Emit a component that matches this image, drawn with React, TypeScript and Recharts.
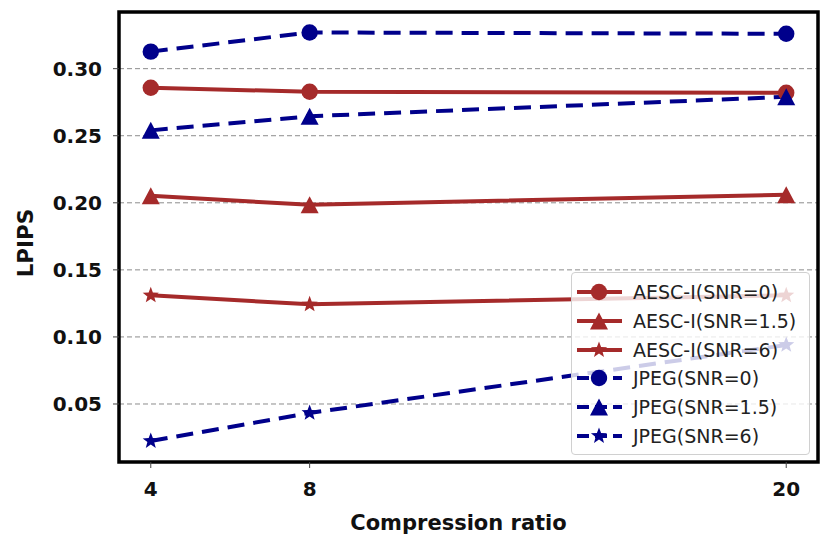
import React from "react"
import {
  LineChart,
  Line,
  XAxis,
  YAxis,
  CartesianGrid,
  ReferenceArea,
  Legend,
} from "recharts"

// compression ratios on the x axis
const ratios = [4, 8, 20]
const xTicks = [4, 8, 20]
const yTicks = [0.05, 0.1, 0.15, 0.2, 0.25, 0.3]

// LPIPS values
const aescSnr0 = [0.2858, 0.2828, 0.282]
const aescSnr15 = [0.2052, 0.1985, 0.206]
const aescSnr6 = [0.131, 0.1243, 0.131]
const jpegSnr0 = [0.3127, 0.327, 0.326]
const jpegSnr15 = [0.254, 0.2645, 0.279]
const jpegSnr6 = [0.0224, 0.0433, 0.094]

const X_DOMAIN = [3.2, 20.8]
const Y_DOMAIN = [0.00675, 0.34225]

const RED = "#a52a2a"
const BLUE = "#00008b"
const FONT = "DejaVu Sans"

const data = ratios.map((r, i) => ({
  x: r,
  aesc0: aescSnr0[i],
  aesc15: aescSnr15[i],
  aesc6: aescSnr6[i],
  jpeg0: jpegSnr0[i],
  jpeg15: jpegSnr15[i],
  jpeg6: jpegSnr6[i],
}))

type MarkerKind = "circle" | "triangle" | "star"

const series: { key: string; name: string; color: string; dashed: boolean; marker: MarkerKind }[] = [
  { key: "aesc0", name: "AESC-I(SNR=0)", color: RED, dashed: false, marker: "circle" },
  { key: "aesc15", name: "AESC-I(SNR=1.5)", color: RED, dashed: false, marker: "triangle" },
  { key: "aesc6", name: "AESC-I(SNR=6)", color: RED, dashed: false, marker: "star" },
  { key: "jpeg0", name: "JPEG(SNR=0)", color: BLUE, dashed: true, marker: "circle" },
  { key: "jpeg15", name: "JPEG(SNR=1.5)", color: BLUE, dashed: true, marker: "triangle" },
  { key: "jpeg6", name: "JPEG(SNR=6)", color: BLUE, dashed: true, marker: "star" },
]

function starPoints(cx: number, cy: number, R: number) {
  const r = R * 0.42
  const pts: string[] = []
  for (let i = 0; i < 10; i++) {
    const a = -Math.PI / 2 + (i * Math.PI) / 5
    const rad = i % 2 === 0 ? R : r
    pts.push(`${cx + rad * Math.cos(a)},${cy + rad * Math.sin(a)}`)
  }
  return pts.join(" ")
}

function Marker({ kind, cx, cy, color, scale = 1 }: { kind: MarkerKind; cx: number; cy: number; color: string; scale?: number }) {
  if (kind === "circle") return <circle cx={cx} cy={cy} r={8.2 * scale} fill={color} />
  if (kind === "triangle") {
    const w = 9 * scale
    const h = 8.5 * scale
    return <polygon points={`${cx},${cy - h} ${cx - w},${cy + h} ${cx + w},${cy + h}`} fill={color} />
  }
  return <polygon points={starPoints(cx, cy, 8.5 * scale)} fill={color} />
}

function makeDot(kind: MarkerKind, color: string) {
  return (props: any) => {
    const { cx, cy, index } = props
    if (cx == null || cy == null) return <g key={index} />
    return <Marker key={index} kind={kind} cx={cx} cy={cy} color={color} />
  }
}

function LegendBox() {
  return (
    <div
      style={{
        background: "rgba(255,255,255,0.8)",
        border: "1px solid #d0d0d0",
        borderRadius: 4,
        padding: "5px 0 4px 3px",
        fontFamily: FONT,
        fontSize: 19,
        color: "#222",
        boxSizing: "border-box",
        width: 239,
        textAlign: "left",
      }}
    >
      {series.map((s) => (
        <div key={s.key} style={{ display: "flex", alignItems: "center", height: 28.7 }}>
          <svg width={58} height={24} style={{ flex: "none" }}>
            <line
              x1={2}
              y1={12}
              x2={47}
              y2={12}
              stroke={s.color}
              strokeWidth={4}
              strokeDasharray={s.dashed ? "12 6" : undefined}
            />
            <Marker kind={s.marker} cx={24} cy={12} color={s.color} />
          </svg>
          <span style={{ whiteSpace: "nowrap" }}>{s.name}</span>
        </div>
      ))}
    </div>
  )
}

export default function App() {
  return (
    <div style={{ position: "absolute", left: 0, top: 0, width: 830, height: 549, background: "#fff" }}>
      <LineChart width={830} height={549} data={data} margin={{ top: 12, right: 12, bottom: 0, left: 0 }}>
        <CartesianGrid vertical={false} stroke="#8c8c8c" strokeDasharray="5 3" strokeWidth={1} />
        <XAxis
          dataKey="x"
          type="number"
          domain={X_DOMAIN}
          ticks={xTicks}
          allowDataOverflow
          height={87}
          axisLine={false}
          tickSize={6}
          tickMargin={14}
          tickLine={{ stroke: "#444", strokeWidth: 1 }}
          tick={{ fill: "#111", fontSize: 20, fontWeight: "bold", fontFamily: FONT }}
          label={{
            value: "Compression ratio",
            position: "insideBottom",
            offset: 19,
            dx: -10,
            fill: "#111",
            fontSize: 21,
            fontWeight: "bold",
            fontFamily: FONT,
          }}
        />
        <YAxis
          type="number"
          domain={Y_DOMAIN}
          ticks={yTicks}
          allowDataOverflow
          width={119}
          axisLine={false}
          tickSize={6}
          tickMargin={11}
          tickLine={{ stroke: "#444", strokeWidth: 1 }}
          tickFormatter={(v: number) => v.toFixed(2)}
          tick={{ fill: "#111", fontSize: 20, fontWeight: "bold", fontFamily: FONT }}
          label={{
            content: () => (
              <text
                x={25}
                y={243}
                transform="rotate(-90, 25, 243)"
                textAnchor="middle"
                dominantBaseline="central"
                fill="#111"
                fontSize={21.5}
                fontWeight="bold"
                fontFamily={FONT}
              >
                LPIPS
              </text>
            ),
          }}
        />
        <ReferenceArea
          x1={X_DOMAIN[0]}
          x2={X_DOMAIN[1]}
          y1={Y_DOMAIN[0]}
          y2={Y_DOMAIN[1]}
          fill="none"
          stroke="#000"
          strokeWidth={3.5}
          ifOverflow="visible"
        />
        {series.map((s) => (
          <Line
            key={s.key}
            dataKey={s.key}
            name={s.name}
            stroke={s.color}
            strokeWidth={4}
            strokeDasharray={s.dashed ? "17 9" : undefined}
            dot={makeDot(s.marker, s.color)}
            activeDot={false}
            isAnimationActive={false}
          />
        ))}
        <Legend
          layout="vertical"
          align="center"
          verticalAlign="middle"
          content={() => <LegendBox />}
          wrapperStyle={{ position: "absolute", left: 571, top: 272, width: 239, bottom: "auto", right: "auto" }}
        />
      </LineChart>
    </div>
  )
}
